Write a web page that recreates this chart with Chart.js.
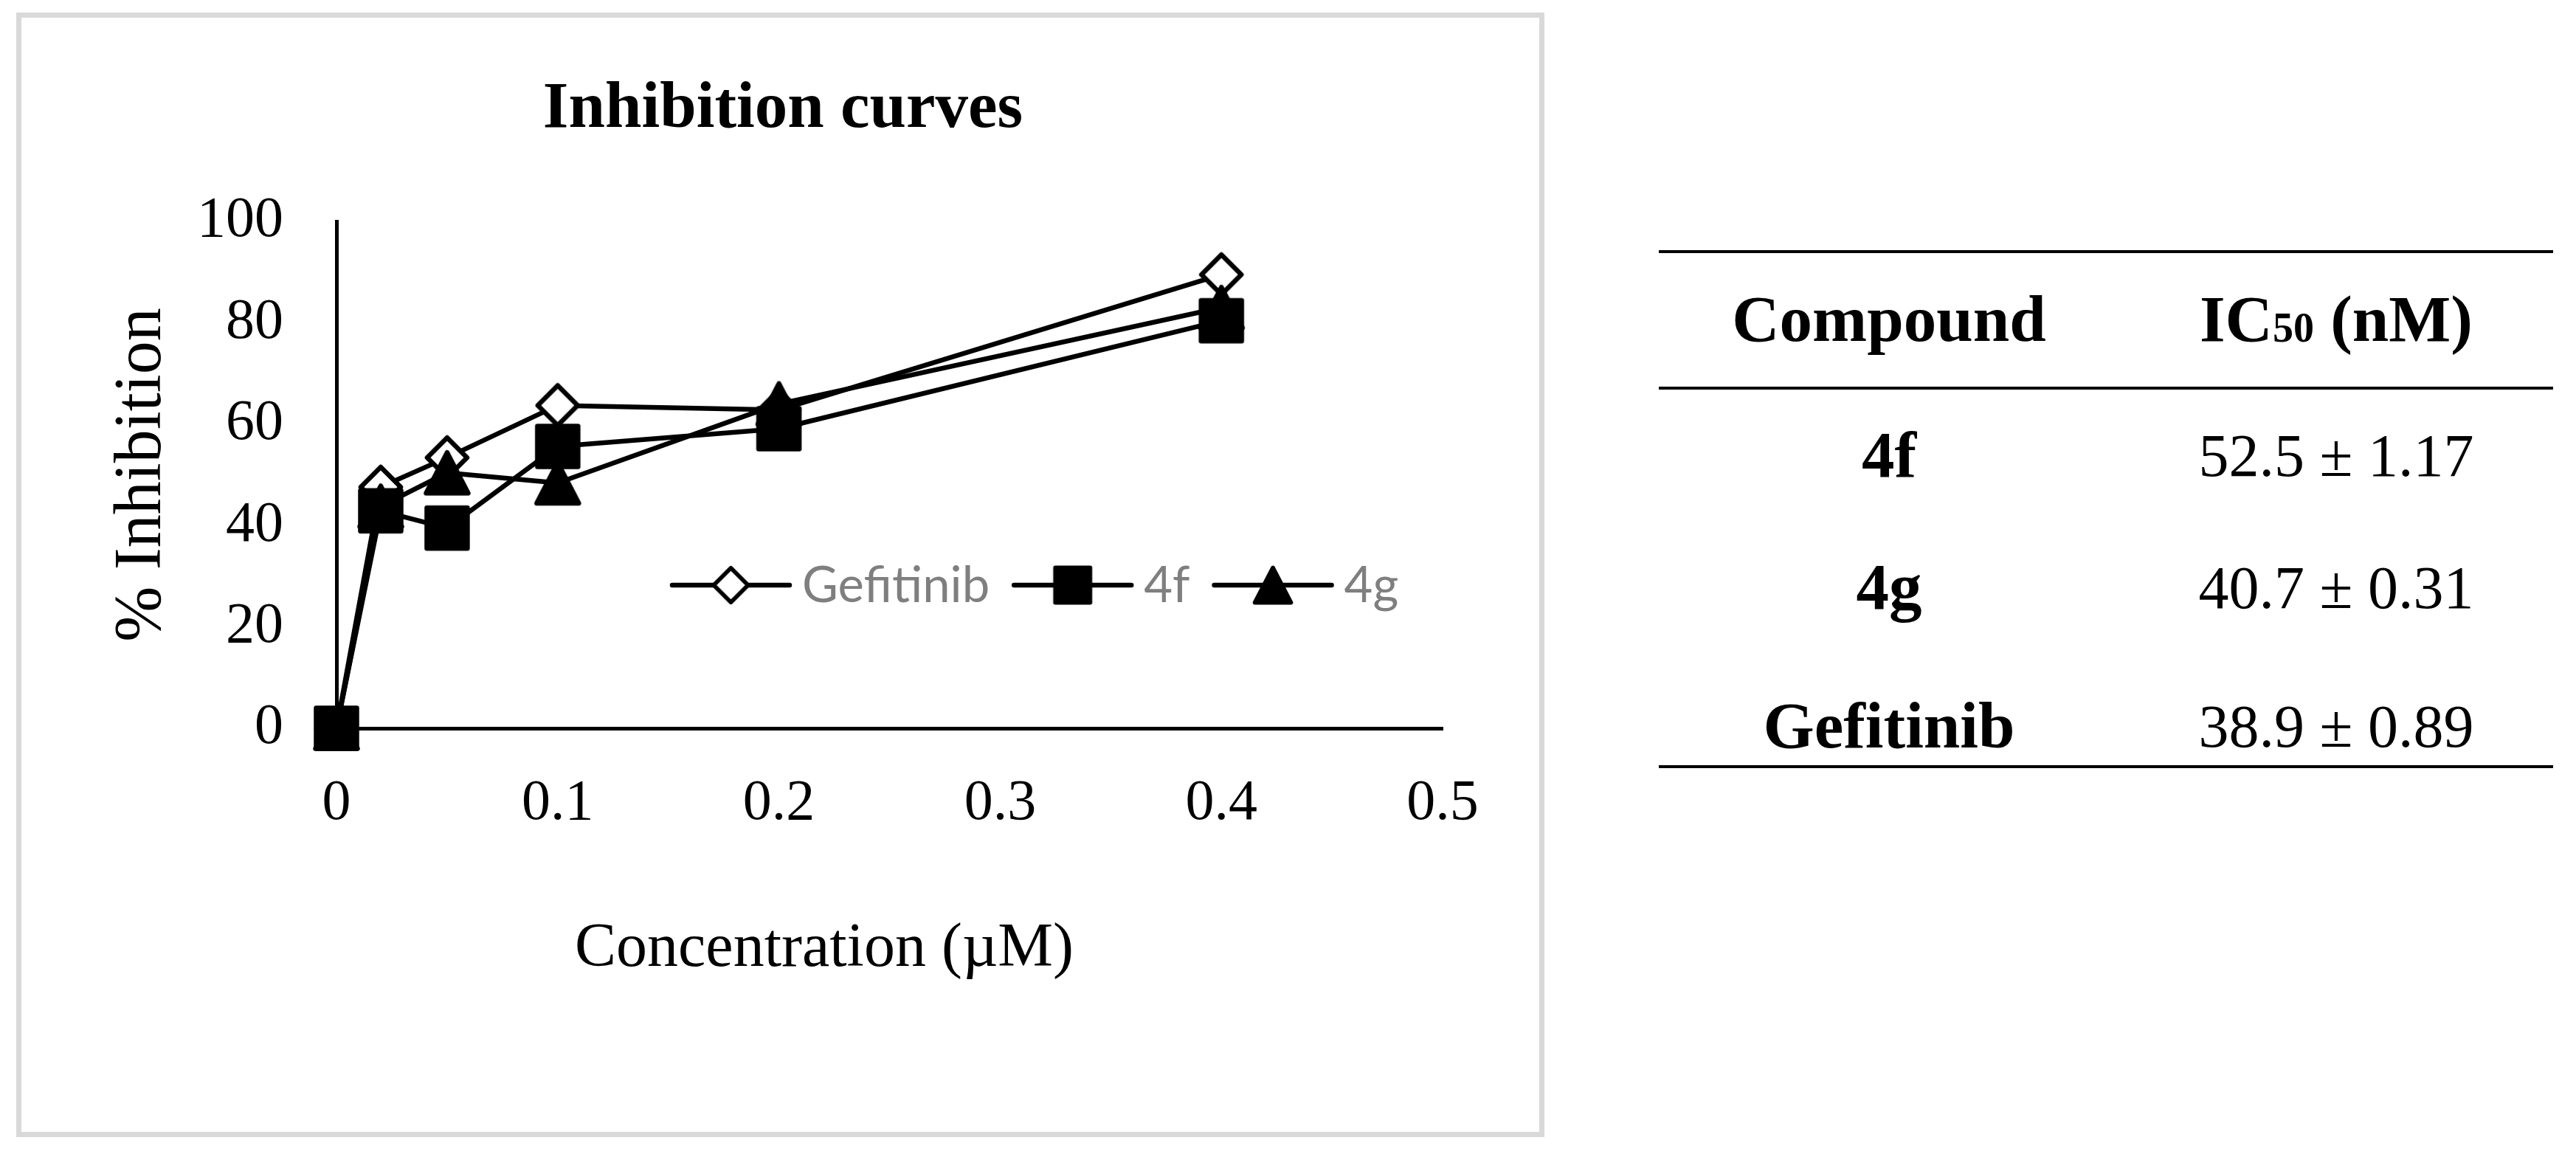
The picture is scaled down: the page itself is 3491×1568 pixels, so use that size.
<!DOCTYPE html>
<html>
<head>
<meta charset="utf-8">
<script src="https://cdn.jsdelivr.net/npm/chart.js@4.4.1/dist/chart.umd.min.js"></script>
<style>
  html, body { margin: 0; padding: 0; background: #fff; }
  body { width: 3491px; height: 1568px; position: relative; overflow: hidden; }
  #frame { position: absolute; left: 22px; top: 17px; width: 2071px; height: 1524px; box-sizing: border-box; border: 7px solid #d9d9d9; }
  #chartBox { position: absolute; left: 0; top: 0; width: 2120px; height: 1568px; }
  #ic50 { position: absolute; left: 2248px; top: 339px; width: 1212px; border-collapse: separate; border-spacing: 0; font-family: 'Liberation Serif', serif; color: #000; }
  #ic50 th, #ic50 td { padding: 0; text-align: center; line-height: 100px; white-space: nowrap; }
  #ic50 th { font-weight: bold; font-size: 89px; border-top: 4px solid #000; border-bottom: 4px solid #000; padding-top: 39px; padding-bottom: 42px; }
  #ic50 td.name { font-weight: bold; font-size: 89px; padding-top: 38px; }
  #ic50 td.val { font-weight: normal; font-size: 82px; padding-top: 40.3px; }
  #ic50 .c1 { width: 624px; }
  #ic50 sub { font-size: 0.63em; vertical-align: baseline; line-height: 0; position: relative; top: 1px; }
</style>
</head>
<body>
<div id="frame"></div>
<div id="chartBox"><canvas id="chart" width="2120" height="1568"></canvas></div>
<table id="ic50">
  <thead><tr><th class="c1">Compound</th><th>IC<sub>50</sub> (nM)</th></tr></thead>
  <tbody id="tbody"></tbody>
</table>
<script>
// ---- data ----
const concentrations = [0, 0.02, 0.05, 0.1, 0.2, 0.4];
const gefitinib = [0, 47.6, 53.4, 63.7, 62.8, 89.5];
const cmp4f = [0, 42.9, 39.5, 55.6, 59.1, 80.4];
const cmp4g = [0, 43.8, 50.4, 48.4, 64.0, 83.0];
const seriesNames = ['Gefitinib', '4f', '4g'];
const xTickLabels = ['0', '0.1', '0.2', '0.3', '0.4', '0.5'];
const yTickLabels = ['0', '20', '40', '60', '80', '100'];
const tableCompounds = ['4f', '4g', 'Gefitinib'];
const tableIC50 = ['52.5 ± 1.17', '40.7 ± 0.31', '38.9 ± 0.89'];

// ---- table ----
const rowPadBottom = [[40.5, 38.2], [50.5, 48.2], [4, 1.7]];
const tbody = document.getElementById('tbody');
tableCompounds.forEach((name, i) => {
  const tr = document.createElement('tr');
  const a = document.createElement('td');
  a.className = 'name c1'; a.textContent = name; a.style.paddingBottom = rowPadBottom[i][0] + 'px';
  const b = document.createElement('td');
  b.className = 'val'; b.textContent = tableIC50[i]; b.style.paddingBottom = rowPadBottom[i][1] + 'px';
  if (i === tableCompounds.length - 1) { a.style.borderBottom = '4px solid #000'; b.style.borderBottom = '4px solid #000'; }
  tr.appendChild(a); tr.appendChild(b); tbody.appendChild(tr);
});

// ---- marker sprites ----
function makeMarker(kind, s) {
  const size = Math.round(68 * s);
  const c = document.createElement('canvas');
  c.width = size; c.height = size;
  const g = c.getContext('2d');
  g.translate(size / 2, size / 2);
  g.lineWidth = 6.5 * s; g.lineJoin = 'round'; g.strokeStyle = '#000';
  g.beginPath();
  if (kind === 'diamond') {
    const r = 27 * s;
    g.moveTo(0, -r); g.lineTo(r, 0); g.lineTo(0, r); g.lineTo(-r, 0); g.closePath();
    g.fillStyle = '#fff';
  } else if (kind === 'square') {
    const h = 27.5 * s;
    g.rect(-h, -h, 2 * h, 2 * h);
    g.fillStyle = '#000';
  } else {
    const hw = 28.5 * s, hh = 27.5 * s;
    g.moveTo(0, -hh); g.lineTo(hw, hh); g.lineTo(-hw, hh); g.closePath();
    g.fillStyle = '#000';
  }
  g.fill(); g.stroke();
  return c;
}
const plotMarkers = [makeMarker('diamond', 1), makeMarker('square', 1), makeMarker('triangle', 1)];
const legendMarkers = [makeMarker('diamond', 0.86), makeMarker('square', 0.86), makeMarker('triangle', 0.86)];

const toPoints = (ys) => concentrations.map((x, i) => ({ x: x, y: ys[i] }));
const serif = "'Liberation Serif', serif";

// ---- plugins ----
const insideLegend = {
  id: 'insideLegend',
  afterDatasetsDraw(chart, args, opts) {
    const ctx = chart.ctx;
    ctx.save();
    ctx.font = opts.fontSize + 'px ' + opts.fontFamily;
    let x = opts.x;
    chart.data.datasets.forEach((ds, i) => {
      ctx.strokeStyle = ds.borderColor; ctx.lineWidth = ds.borderWidth; ctx.lineCap = 'round';
      ctx.beginPath(); ctx.moveTo(x, opts.y); ctx.lineTo(x + opts.lineLength, opts.y); ctx.stroke();
      const m = legendMarkers[i];
      ctx.drawImage(m, x + opts.lineLength / 2 - m.width / 2, opts.y - m.height / 2);
      const tx = x + opts.lineLength + opts.textGap;
      ctx.fillStyle = opts.color; ctx.textAlign = 'left'; ctx.textBaseline = 'alphabetic';
      ctx.fillText(ds.label, tx, opts.baseline);
      x = tx + ctx.measureText(ds.label).width + opts.itemGap;
    });
    ctx.restore();
  }
};
const xAxisTitle = {
  id: 'xAxisTitle',
  afterDraw(chart, args, opts) {
    const ctx = chart.ctx;
    ctx.save();
    ctx.font = opts.size + 'px ' + opts.family;
    ctx.fillStyle = opts.color; ctx.textAlign = 'center'; ctx.textBaseline = 'alphabetic';
    ctx.fillText(opts.text, opts.x, opts.y);
    ctx.restore();
  }
};

const common = {
  borderColor: '#000', backgroundColor: '#000', borderWidth: 6.5,
  borderCapStyle: 'round', borderJoinStyle: 'round',
  pointRadius: 30, pointHoverRadius: 30, tension: 0, fill: false, clip: false
};

new Chart(document.getElementById('chart'), {
  type: 'line',
  data: {
    datasets: [
      Object.assign({ label: seriesNames[0], data: toPoints(gefitinib), order: 2, pointStyle: plotMarkers[0] }, common),
      Object.assign({ label: seriesNames[1], data: toPoints(cmp4f), order: 0, pointStyle: plotMarkers[1] }, common),
      Object.assign({ label: seriesNames[2], data: toPoints(cmp4g), order: 1, pointStyle: plotMarkers[2] }, common)
    ]
  },
  options: {
    responsive: false,
    animation: false,
    events: [],
    layout: { padding: { left: 167, right: 165, top: 0, bottom: 0 } },
    plugins: {
      legend: { display: false },
      tooltip: { enabled: false },
      title: {
        display: true, text: 'Inhibition curves', color: '#000',
        font: { family: serif, size: 89, weight: 'bold', lineHeight: 1.2 },
        padding: { top: 96, bottom: 97.2 }
      },
      insideLegend: { x: 911, y: 793, baseline: 816, lineLength: 159, textGap: 17, itemGap: 33, fontSize: 67, fontFamily: "Lato, 'Open Sans', sans-serif", color: '#7f7f7f' },
      xAxisTitle: { text: 'Concentration (µM)', x: 1117, y: 1309, size: 84, family: serif, color: '#000' }
    },
    scales: {
      x: {
        type: 'linear', min: 0, max: 0.5,
        grid: { display: false, drawTicks: false },
        border: { display: true, color: '#000', width: 5 },
        ticks: { stepSize: 0.1, padding: 56, color: '#000', maxRotation: 0, autoSkip: false,
          font: { family: serif, size: 78 }, callback: (v, i) => xTickLabels[i] },
        afterFit: (s) => { s.height = 581; }
      },
      y: {
        type: 'linear', min: 0, max: 100,
        grid: { display: false, drawTicks: false },
        border: { display: true, color: '#000', width: 5 },
        ticks: { stepSize: 20, padding: 72, color: '#000',
          font: { family: serif, size: 78 }, callback: (v, i) => yTickLabels[i] },
        title: { display: true, text: '% Inhibition', color: '#000',
          font: { family: serif, size: 90, lineHeight: 0.4 }, padding: { top: 8, bottom: 0 } },
        afterFit: (s) => { s.width = 289; }
      }
    }
  },
  plugins: [insideLegend, xAxisTitle]
});
</script>
</body>
</html>
